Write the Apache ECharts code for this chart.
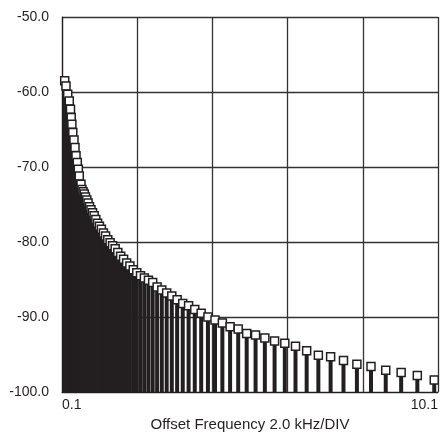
<!DOCTYPE html>
<html><head><meta charset="utf-8">
<script src="https://cdn.jsdelivr.net/npm/echarts@6/dist/echarts.min.js"></script>
<style>html,body{margin:0;padding:0;background:#fff}#c{width:441px;height:432px}</style>
</head><body><div id="c"></div>
<script>
// Offset frequencies (kHz) and levels (dB)
const freqKHz = [
0.172,0.206,0.252,0.294,0.326,0.345,0.363,0.387,0.419,0.446,0.473,0.507,0.534,0.560,0.605,
0.631,0.661,0.692,0.724,0.759,0.794,0.832,0.871,0.912,0.955,1.000,1.047,1.096,
1.148,1.202,1.259,1.318,1.380,1.445,1.514,1.585,1.660,1.738,1.820,1.905,1.995,2.089,2.188,2.291,2.399,2.512,2.630,2.754,
2.884,3.020,3.162,3.311,3.467,3.631,3.802,3.981,4.169,4.365,4.571,4.786,5.012,5.248,5.495,5.754,6.026,6.310,6.607,6.918,
7.244,7.586,7.943,8.318,8.710,9.120,9.550,10.000];
const levelDb = [
-58.5,-59.2,-60.3,-61.2,-62.3,-63.4,-64.3,-65.4,-66.4,-67.4,-68.5,-69.4,-70.3,-71.2,-72.3,
-73.0,-73.3,-73.6,-74.0,-74.4,-74.8,-75.3,-75.7,-76.1,-76.5,-77.0,-77.5,-77.9,
-78.3,-78.8,-79.2,-79.7,-80.1,-80.5,-80.9,-81.4,-81.9,-82.3,-82.8,-83.2,-83.7,-84.1,-84.5,-84.8,-85.1,-85.4,-86.0,-86.4,
-86.8,-87.2,-87.7,-88.2,-88.5,-89.0,-89.5,-90.0,-90.4,-90.8,-91.3,-91.6,-92.2,-92.4,-92.8,-93.2,-93.5,-93.9,-94.5,-95.1,
-95.3,-95.8,-96.3,-96.6,-97.1,-97.4,-97.8,-98.4];
const xStart = 0.1, xEnd = 10.1, xStep = 2.0;
const yMin = -100, yMax = -50, yStep = 10;
const xTickLabels = ['0.1','','','','','10.1'];
const xTitle = 'Offset Frequency 2.0 kHz/DIV';

const ink = '#231f20';
const font = '"Liberation Sans", Arial, sans-serif';
const data = freqKHz.map((f, i) => [f - xStart, levelDb[i]]);

const chart = echarts.init(document.getElementById('c'), null, {renderer: 'canvas'});
chart.setOption({
  animation: false,
  backgroundColor: '#fff',
  grid: {left: 62, right: 3, top: 17, bottom: 40, containLabel: false, outerBoundsMode: 'none'},
  xAxis: {
    type: 'value', min: 0, max: xEnd - xStart, interval: xStep,
    axisLine: {show: true, lineStyle: {color: ink, width: 1.2}},
    axisTick: {show: false},
    splitLine: {show: true, lineStyle: {color: '#333', width: 1.3}},
    axisLabel: {
      color: ink, fontFamily: font, fontSize: 14, margin: 6,
      alignMinLabel: 'left', alignMaxLabel: 'right',
      formatter: v => xTickLabels[Math.round(v / xStep)] || ''
    },
    name: xTitle, nameLocation: 'middle', nameGap: 21,
    nameTextStyle: {color: ink, fontFamily: font, fontSize: 15}
  },
  yAxis: {
    type: 'value', min: yMin, max: yMax, interval: yStep,
    axisLine: {show: true, lineStyle: {color: ink, width: 1.2}},
    axisTick: {show: false},
    splitLine: {show: true, lineStyle: {color: '#333', width: 1.3}},
    axisLabel: {color: ink, fontFamily: font, fontSize: 14, margin: 13,
      formatter: v => v.toFixed(1)}
  },
  series: [{
    type: 'custom',
    data: data,
    clip: false,
    renderItem: function (params, api) {
      const x = api.value(0), v = api.value(1);
      const top = api.coord([x, v]);
      const base = api.coord([x, yMin]);
      const sw = 4, ms = 8;
      return {type: 'group', children: [
        {type: 'rect', shape: {x: top[0] - sw / 2, y: top[1], width: sw, height: base[1] - top[1]},
         style: {fill: ink}},
        {type: 'rect', shape: {x: top[0] - ms / 2, y: top[1] - ms / 2, width: ms, height: ms},
         style: {fill: '#fff', stroke: ink, lineWidth: 1.5}}
      ]};
    }
  }]
});
</script>
</body></html>
